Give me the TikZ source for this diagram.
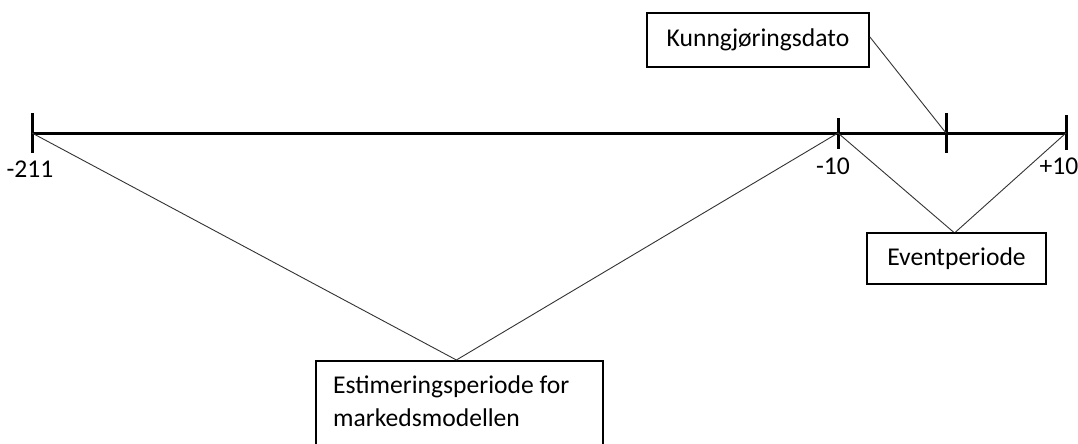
\documentclass[tikz,border=0pt]{standalone}
\usepackage{fontspec}
\setmainfont{Carlito}
\begin{document}
\begin{tikzpicture}[x=1pt,y=-1pt,
  axisline/.style={line width=3pt},
  tickline/.style={line width=3pt},
  boxnode/.style={draw,line width=1.8pt,fill=white,inner sep=0pt},
  conn/.style={line width=0.9pt,draw=black!80},
  lbl/.style={inner sep=0pt,font=\fontsize{25.6}{33}\selectfont}]
\useasboundingbox[fill=white] (0,0) rectangle (1078,444);
\clip (0,0) rectangle (1078,444);
% axis coordinates
\coordinate (a) at (32,133);
\coordinate (b) at (838,133);
\coordinate (c) at (946,133);
\coordinate (d) at (1066,133);
\draw[axisline] (a) -- (d);
\draw[tickline] (32,113) -- (32,153);
\draw[tickline] (838,118) -- (838,149);
\draw[tickline] (946,113) -- (946,153);
\draw[tickline] (1066,115) -- (1066,150);
% labels
\node[lbl] (l211) at (30,169) {-211};
\node[lbl] (l10) at (833,166) {-10};
\node[lbl] (lp10) at (1059,166) {+10};
% boxes
\node[boxnode,minimum width=222pt,minimum height=54pt,lbl,draw,line width=1.8pt] (kd) at (758,40) {Kunngjøringsdato};
\node[boxnode,minimum width=179pt,minimum height=51pt,lbl,draw,line width=1.8pt] (ev) at (956.5,258.5) {Eventperiode};
\node[boxnode,minimum width=287pt,minimum height=110pt,anchor=north west] (est) at (315,360) {};
\node[lbl,align=left,anchor=north west] (estt) at (333,376) {Estimeringsperiode for\\markedsmodellen};
% connectors
\draw[conn] ([yshift=3pt]kd.east) -- (c);
\draw[conn] (b) -- ([xshift=-3pt]ev.north);
\draw[conn] (d) -- ([xshift=-1pt]ev.north);
\draw[conn] (a) -- ([xshift=-3pt]est.north);
\draw[conn] (b) -- ([xshift=-3pt]est.north);
\end{tikzpicture}
\end{document}
